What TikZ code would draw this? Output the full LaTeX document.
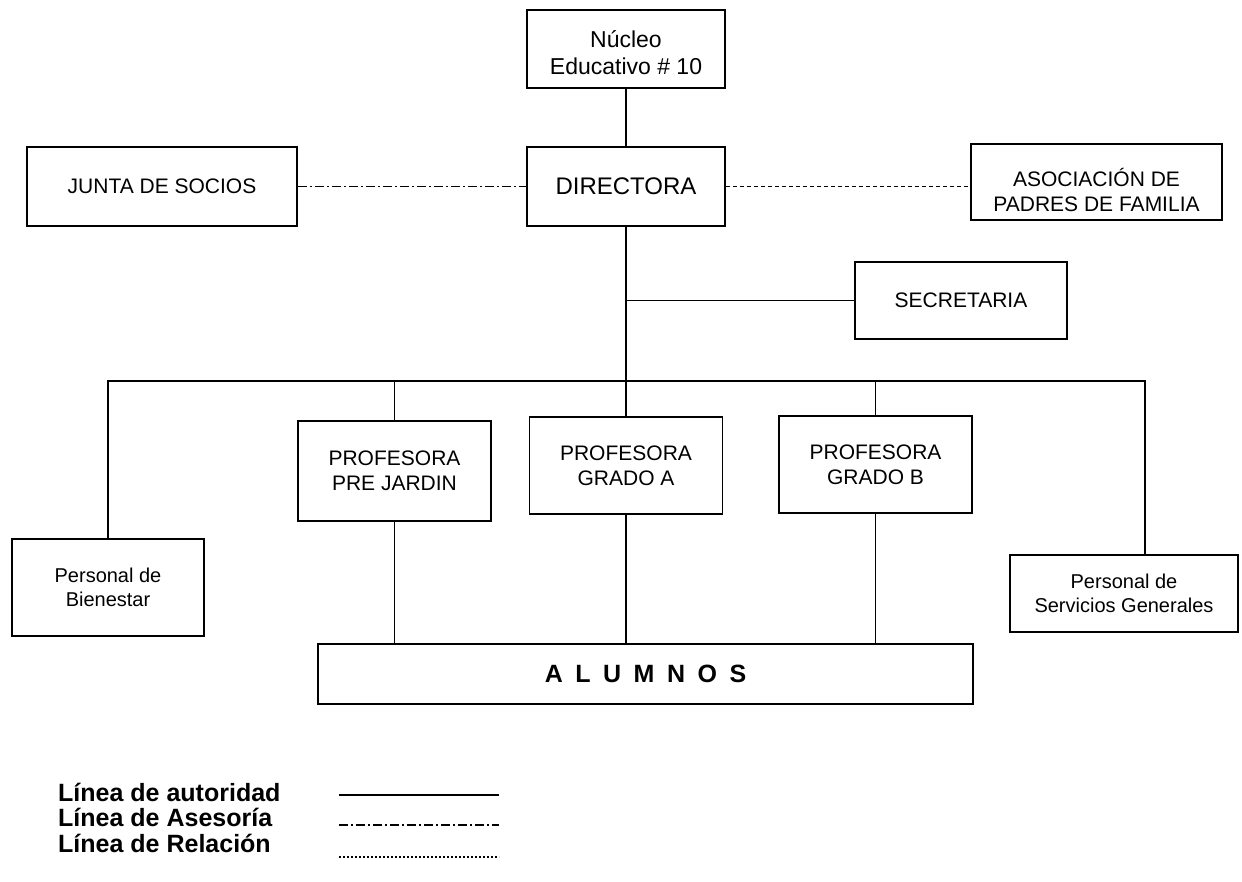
\documentclass[tikz,border=0pt]{standalone}
\usepackage{fontspec}
\setmainfont{Liberation Sans}
\begin{document}
\begin{tikzpicture}[x=1pt, y=-1pt,
    box/.style={rectangle, draw=black, line width=1.5pt, align=center, inner sep=2pt,
                font=\fontsize{21}{25}\selectfont},
    smallbox/.style={box, font=\fontsize{20}{24}\selectfont},
    auth/.style={line width=1.8pt},
    advice/.style={line width=1.8pt, dash pattern=on 9pt off 3pt on 2pt off 3pt},
    relation/.style={line width=1.8pt, dash pattern=on 4pt off 3pt},
    legend/.style={anchor=west, inner sep=0pt, font=\fontsize{25}{28}\selectfont\bfseries}
]
\useasboundingbox (0,0) rectangle (1242,881);

\node[box, minimum width=198pt, minimum height=78pt, font=\fontsize{23}{27}\selectfont] (nucleo) at (626,49)
    {\rule{0pt}{24pt}Núcleo\\Educativo \# 10};
\node[box, minimum width=198pt, minimum height=79pt, font=\fontsize{24}{28}\selectfont] (dir) at (626,186.5) {DIRECTORA};
\node[box, minimum width=270pt, minimum height=79pt] (junta) at (162,186.5) {JUNTA DE SOCIOS};
\node[box, minimum width=251pt, minimum height=76pt] (asoc) at (1096.5,182) {\rule{0pt}{34pt}ASOCIACIÓN DE\\PADRES DE FAMILIA};
\node[box, minimum width=212pt, minimum height=77pt] (secr) at (961,300.5) {SECRETARIA};

\node[box, minimum width=193pt, minimum height=100pt] (prej) at (394.5,471) {PROFESORA\\PRE JARDIN};
\node[box, minimum width=193pt, minimum height=97pt] (gradoA) at (626,465.5) {PROFESORA\\GRADO A};
\node[box, minimum width=193pt, minimum height=97pt] (gradoB) at (875.5,464.5) {PROFESORA\\GRADO B};

\node[smallbox, minimum width=192pt, minimum height=97pt] (bien) at (108,587.5) {Personal de\\Bienestar};
\node[smallbox, minimum width=228pt, minimum height=77pt] (serv) at (1124,593.5) {Personal de\\Servicios Generales};

\node[box, minimum width=655pt, minimum height=60pt, font=\fontsize{25}{28}\selectfont\bfseries] (alum) at (645.5,674)
    {A\hspace{0.5em}L\hspace{0.5em}U\hspace{0.5em}M\hspace{0.5em}N\hspace{0.5em}O\hspace{0.5em}S};

% lineas de autoridad
\coordinate (busL) at (108,381);
\coordinate (busR) at (1145,381);
\draw[auth] (nucleo.south) -- (dir.north);
\draw[auth] (dir.south) -- (gradoA.north);
\draw[auth] (dir.south |- secr.west) -- (secr.west);
\draw[auth] (bien.north) -- (busL) -- (busR) -- (busR |- serv.north);
\draw[auth] (prej.north) -- (prej.north |- busL);
\draw[auth] (gradoB.north) -- (gradoB.north |- busL);
\draw[auth] (prej.south) -- (prej.south |- alum.north);
\draw[auth] (gradoA.south) -- (gradoA.south |- alum.north);
\draw[auth] (gradoB.south) -- (gradoB.south |- alum.north);

% asesoria y relacion
\draw[advice] (junta.east) -- (dir.west);
\draw[relation] (dir.east) -- (dir.east -| asoc.west);

% leyenda
\node[legend] (l1) at (58,792) {Línea de autoridad};
\node[legend] (l2) at (58,817) {Línea de Asesoría};
\node[legend] (l3) at (58,843) {Línea de Relación};
\coordinate (a1) at (339,795);
\coordinate (b1) at (499,795);
\coordinate (a2) at (339,825);
\coordinate (b2) at (499,825);
\coordinate (a3) at (339,857);
\coordinate (b3) at (499,857);
\draw[auth] (a1) -- (b1);
\draw[advice] (a2) -- (b2);
\draw[relation, dash pattern=on 2pt off 2pt] (a3) -- (b3);

\end{tikzpicture}
\end{document}
